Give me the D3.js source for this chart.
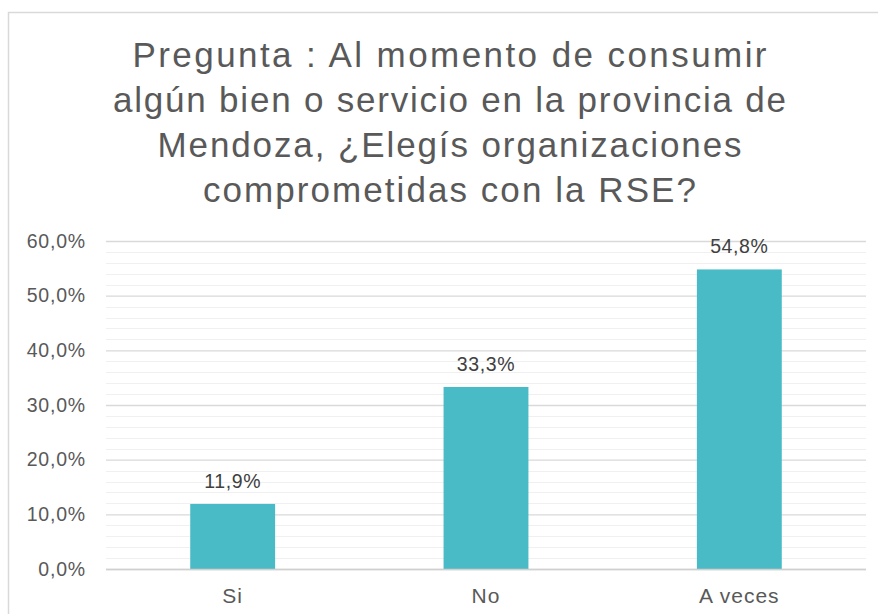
<!DOCTYPE html>
<html>
<head>
<meta charset="utf-8">
<script src="https://cdn.jsdelivr.net/npm/d3@7"></script>
<style>
  body { margin: 0; background: #fff; }
  svg { display: block; font-family: "Liberation Sans", Arial, sans-serif; }
</style>
</head>
<body>
<div id="chart"></div>
<script>
const categories = ['Si', 'No', 'A veces'];
const values = [11.9, 33.3, 54.8];
const yTicks = [0, 10, 20, 30, 40, 50, 60];
const titleLines = [
    'Pregunta : Al momento de consumir',
    'algún bien o servicio en la provincia de',
    'Mendoza, ¿Elegís organizaciones',
    'comprometidas con la RSE?'
];
const titleWidths = [634, 673, 584, 493];

const W = 878, H = 614;
const plotLeft = 106, plotRight = 866, plotTop = 241, plotBottom = 569;
const fmt = function (v) { return v.toFixed(1).replace('.', ',') + '%'; };

var svg = d3.select('#chart')
    .append('svg')
    .attr('width', W)
    .attr('height', H);

// chart frame (cut off at right and bottom)
svg.append('path')
    .attr('d', 'M8.5,' + H + ' L8.5,12.5 L' + W + ',12.5')
    .attr('fill', 'none')
    .attr('stroke', '#d9d9d9')
    .attr('stroke-width', 1.5);

// title
svg.append('g').selectAll('text')
    .data(titleLines)
    .enter().append('text')
    .attr('x', 449.5)
    .attr('y', function (d, i) { return 67 + i * 45; })
    .attr('text-anchor', 'middle')
    .attr('font-size', 35)
    .attr('fill', '#595959')
    .attr('textLength', function (d, i) { return titleWidths[i]; })
    .attr('lengthAdjust', 'spacing')
    .text(function (d) { return d; });

var x = d3.scaleBand()
    .domain(categories)
    .range([plotLeft, plotRight])
    .paddingInner(0.665)
    .paddingOuter(0.3325);

var y = d3.scaleLinear()
    .domain([0, 60])
    .range([plotBottom, plotTop]);

// minor gridlines every 2%
svg.append('g').selectAll('line')
    .data(d3.range(2, 60, 2).filter(function (v) { return v % 10 !== 0; }))
    .enter().append('line')
    .attr('x1', plotLeft).attr('x2', plotRight)
    .attr('y1', function (d) { return Math.round(y(d)) + 0.5; })
    .attr('y2', function (d) { return Math.round(y(d)) + 0.5; })
    .attr('stroke', '#f0f0f0')
    .attr('stroke-width', 1);

// major gridlines + labels through an axis
var yAxis = d3.axisLeft(y)
    .tickValues(yTicks)
    .tickSize(-(plotRight - plotLeft))
    .tickPadding(20)
    .tickFormat(fmt);

var ga = svg.append('g')
    .attr('transform', 'translate(' + plotLeft + ',0)')
    .call(yAxis);
ga.select('.domain').remove();
ga.selectAll('.tick line')
    .attr('stroke', '#d9d9d9')
    .attr('stroke-width', 1.3);
ga.selectAll('.tick text')
    .attr('fill', '#595959')
    .attr('font-size', 19.5)
    .attr('letter-spacing', 0.8)
    .attr('font-family', '"Liberation Sans", Arial, sans-serif');

// bars
svg.append('g').selectAll('rect')
    .data(values)
    .enter().append('rect')
    .attr('x', function (d, i) { return x(categories[i]); })
    .attr('width', x.bandwidth())
    .attr('y', function (d) { return y(d); })
    .attr('height', function (d) { return y(0) - y(d); })
    .attr('fill', '#48bbc6');

// data labels
svg.append('g').selectAll('text')
    .data(values)
    .enter().append('text')
    .attr('x', function (d, i) { return x(categories[i]) + x.bandwidth() / 2; })
    .attr('y', function (d) { return y(d) - 16; })
    .attr('text-anchor', 'middle')
    .attr('font-size', 19.5)
    .attr('letter-spacing', 0.6)
    .attr('fill', '#404040')
    .text(fmt);

// baseline
svg.append('line')
    .attr('x1', plotLeft).attr('x2', plotRight)
    .attr('y1', y(0) + 0.5).attr('y2', y(0) + 0.5)
    .attr('stroke', '#d0d0d0')
    .attr('stroke-width', 1.3);

// category labels
var xAxis = d3.axisBottom(x).tickSize(0).tickPadding(19);
var gx = svg.append('g')
    .attr('transform', 'translate(0,' + plotBottom + ')')
    .call(xAxis);
gx.select('.domain').remove();
gx.selectAll('.tick text')
    .attr('fill', '#595959')
    .attr('font-size', 21)
    .attr('letter-spacing', 1)
    .attr('font-family', '"Liberation Sans", Arial, sans-serif');
</script>
</body>
</html>
